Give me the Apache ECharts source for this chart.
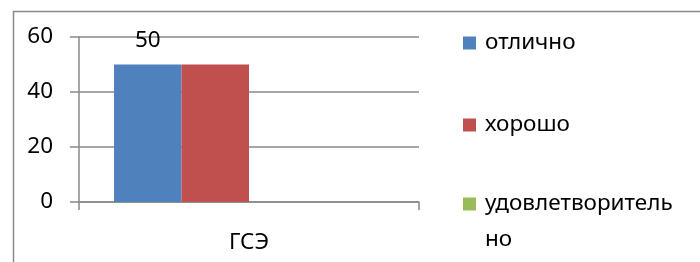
<!DOCTYPE html>
<html>
<head>
<meta charset="utf-8">
<script src="https://cdn.jsdelivr.net/npm/echarts@6/dist/echarts.min.js"></script>
<style>
  html, body { margin: 0; padding: 0; background: #fff; }
  #chart { width: 700px; height: 262px; }
</style>
</head>
<body>
<div id="chart"></div>
<script>
var categories = ['ГСЭ'];
// the 4th series (and its legend entry) sits below the cropped view
var seriesNames = ['отлично', 'хорошо', 'удовлетворительно', 'неудовлетворительно'];
var seriesValues = [[50], [50], [0], [0]];
var seriesColors = ['#4F81BD', '#C0504D', '#9BBB59', '#8064A2'];
var yTicks = [0, 20, 40, 60];

var font = 'Noto Sans';
var fs = 22.5;
var axisGray = '#898989';

// legend items placed one by one like Excel does
var legendTops = [30, 112, 150];
var legendLineH = [26, 26, 36];

var series = seriesNames.map(function (name, i) {
    return {
        name: name,
        type: 'bar',
        data: seriesValues[i],
        barGap: '0%',
        barCategoryGap: '20.6%',
        itemStyle: { color: seriesColors[i] },
        label: {
            show: i === 0,
            position: 'top',
            distance: 12,
            color: '#000',
            fontFamily: font,
            fontSize: fs
        }
    };
});

var legends = seriesNames.slice(0, 3).map(function (name, i) {
    return {
        data: [name],
        orient: 'vertical',
        left: 463,
        top: legendTops[i],
        padding: 0,
        itemWidth: 13,
        itemHeight: 13,
        icon: 'rect',
        selectedMode: false,
        formatter: function (n) {
            return n.length > 15 ? '\n' + n.slice(0, 15) + '\n' + n.slice(15) : n;
        },
        textStyle: {
            fontFamily: font,
            fontSize: fs,
            color: '#000',
            lineHeight: legendLineH[i],
            padding: [0, 0, 0, 4]
        }
    };
});

var option = {
    animation: false,
    backgroundColor: '#fff',
    textStyle: { fontFamily: font },
    graphic: [{
        type: 'rect',
        left: 11,
        top: 9,
        shape: { width: 720, height: 280 },
        style: { fill: 'none', stroke: axisGray, lineWidth: 1.5 },
        silent: true
    }],
    legend: legends,
    grid: { left: 79, right: 281, top: 37, bottom: 60 },
    xAxis: {
        type: 'category',
        data: categories,
        axisLine: { show: true, lineStyle: { color: axisGray, width: 1.5 } },
        axisTick: { show: true, length: 8, lineStyle: { color: axisGray, width: 1.5 } },
        axisLabel: { margin: 29, color: '#000', fontFamily: font, fontSize: fs }
    },
    yAxis: {
        type: 'value',
        min: 0,
        max: yTicks[yTicks.length - 1],
        interval: yTicks[1] - yTicks[0],
        axisLine: { show: true, lineStyle: { color: axisGray, width: 1.5 } },
        axisTick: { show: true, length: 9, lineStyle: { color: axisGray, width: 1.5 } },
        splitLine: { show: true, lineStyle: { color: axisGray, width: 1.5 } },
        axisLabel: { margin: 26, color: '#000', fontFamily: font, fontSize: fs, padding: [8, 0, 0, 0] }
    },
    series: series
};

var myChart = echarts.init(document.getElementById('chart'));
myChart.setOption(option);
</script>
</body>
</html>
